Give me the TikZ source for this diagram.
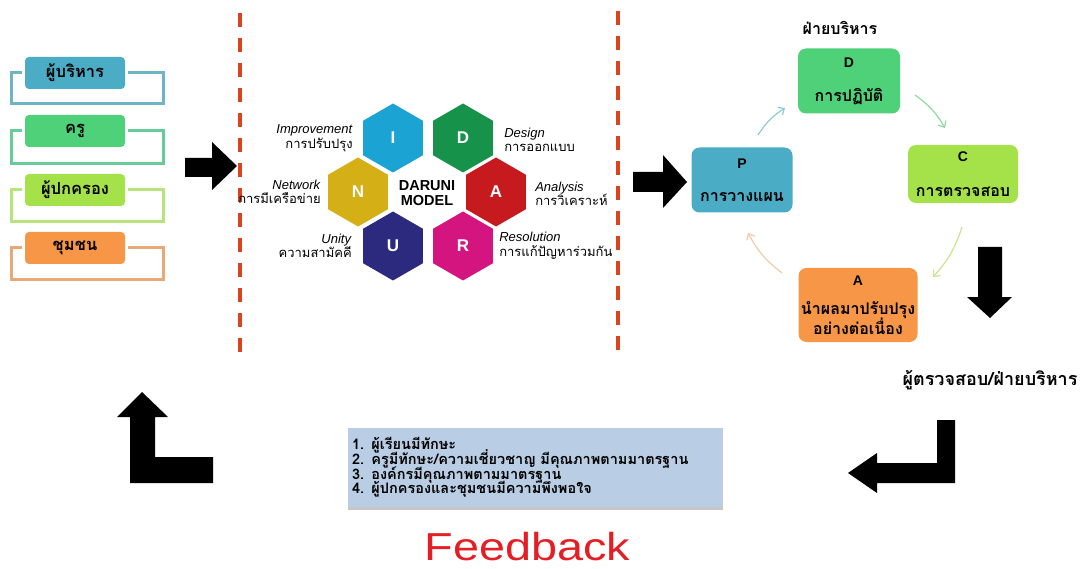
\documentclass[tikz,border=0pt]{standalone}
\usepackage{fontspec}
\setmainfont{Liberation Sans}
\newfontfamily\thaifont[Script=Thai]{Loma}
\newfontfamily\widefont[FakeStretch=1.2]{Liberation Sans}
\usetikzlibrary{positioning,shapes.geometric,shadows,arrows.meta}

\definecolor{teamblue}{HTML}{4BACC6}
\definecolor{teamgreen}{HTML}{4FD17A}
\definecolor{teamlime}{HTML}{A5E24A}
\definecolor{teamorange}{HTML}{F79646}
\definecolor{lineblue}{HTML}{6DB4C5}
\definecolor{linegreen}{HTML}{66CC99}
\definecolor{linelime}{HTML}{B8E47C}
\definecolor{lineorange}{HTML}{E8A976}
\definecolor{hexI}{HTML}{1BA3D3}
\definecolor{hexD}{HTML}{16924A}
\definecolor{hexN}{HTML}{D4AF15}
\definecolor{hexA}{HTML}{C71A1F}
\definecolor{hexU}{HTML}{2C2A7E}
\definecolor{hexR}{HTML}{D5157F}
\definecolor{sepred}{HTML}{D9431E}
\definecolor{fbred}{HTML}{E31E24}
\definecolor{resultbg}{HTML}{B9CDE4}
\definecolor{arrP}{HTML}{8FCBD3}
\definecolor{arrD}{HTML}{8EDAA5}
\definecolor{arrC}{HTML}{C3E890}
\definecolor{arrA}{HTML}{F4CBA5}

\tikzset{
    groupbox/.style={rounded corners=4pt, minimum width=100pt, minimum height=32pt,
        inner sep=0pt, font=\thaifont\bfseries\fontsize{16.5}{18}\selectfont},
    groupframe/.style={line width=3pt},
    hexa/.style={regular polygon, regular polygon sides=6, shape border rotate=30,
        minimum size=69pt, inner sep=0pt, text=white,
        font=\bfseries\fontsize{17}{17}\selectfont},
    hexlabel/.style={inner sep=0pt, font=\fontsize{13}{14.5}\selectfont\setlength{\lineskiplimit}{-20pt}},
    pdcabox/.style={rounded corners=8pt, inner sep=0pt, align=center,
        font=\bfseries\fontsize{14}{16}\selectfont\setlength{\lineskiplimit}{-20pt}},
    cyclearrow/.style={-{Straight Barb[length=5pt,width=9pt]}, line width=1.2pt},
    sepline/.style={draw=sepred, line width=3.5pt, dash pattern=on 14pt off 11pt},
    blockarrow/.style={fill=black}
}

\begin{document}
\begin{tikzpicture}[x=1pt, y=-1pt]
    \useasboundingbox (0,0) rectangle (1081,569);

    % กลุ่มผู้เกี่ยวข้อง
    \node[groupbox, fill=teamblue] (admin) at (75,73) {ผู้บริหาร};
    \node[groupbox, fill=teamgreen] (teacher) at (75,131) {ครู};
    \node[groupbox, fill=teamlime] (parent) at (75,190) {ผู้ปกครอง};
    \node[groupbox, fill=teamorange] (community) at (75,248) {ชุมชน};

    \draw[groupframe, lineblue] ([xshift=-3pt]admin.west) -- ++(-10,0) -- ++(0,31)
        -- ++(152,0) -- ++(0,-31) -- ([xshift=3pt]admin.east);
    \draw[groupframe, linegreen] ([xshift=-3pt]teacher.west) -- ++(-10,0) -- ++(0,33)
        -- ++(152,0) -- ++(0,-33) -- ([xshift=3pt]teacher.east);
    \draw[groupframe, linelime] ([xshift=-3pt]parent.west) -- ++(-10,0) -- ++(0,32)
        -- ++(152,0) -- ++(0,-32) -- ([xshift=3pt]parent.east);
    \draw[groupframe, lineorange] ([xshift=-3pt]community.west) -- ++(-10,0) -- ++(0,32)
        -- ++(152,0) -- ++(0,-32) -- ([xshift=3pt]community.east);

    % เส้นแบ่ง
    \draw[sepline] (240,13) -- (240,360);
    \draw[sepline] (618,11) -- (618,358);

    % DARUNI MODEL
    \node[hexa, fill=hexI] (I) at (393,138) {I};
    \node[hexa, fill=hexD] (D) at (463,138) {D};
    \node[hexa, fill=hexN] (N) at (358,192) {N};
    \node[hexa, fill=hexA] (A) at (496,192) {A};
    \node[hexa, fill=hexU] (U) at (393,246) {U};
    \node[hexa, fill=hexR] (R) at (463,246) {R};
    \node[font=\bfseries\fontsize{14.5}{14.5}\selectfont, align=center] (model) at (427,193) {DARUNI\\MODEL};

    \node[hexlabel, align=right, left=10pt of I] (impr) {\textit{Improvement}\\\thaifont การปรับปรุง};
    \node[hexlabel, align=left, right=11pt of D, yshift=-2pt] (design) {\textit{Design}\\\thaifont การออกแบบ};
    \node[hexlabel, align=right, left=7pt of N] (network) {\textit{Network}\\\thaifont การมีเครือข่าย};
    \node[hexlabel, align=left, right=9pt of A, yshift=-2pt] (analysis) {\textit{Analysis}\\\thaifont การวิเคราะห์};
    \node[hexlabel, align=right, left=11pt of U] (unity) {\textit{Unity}\\\thaifont ความสามัคคี};
    \node[hexlabel, align=left, right=6pt of R] (resol) {\textit{Resolution}\\\thaifont การแก้ปัญหาร่วมกัน};

    % ลูกศรทึบ
    \fill[blockarrow] (185,158) -- (212,158) -- (212,142) -- (237,166) -- (212,190)
        -- (212,177) -- (185,177) -- cycle;
    \fill[blockarrow] (633,172) -- (663,172) -- (663,155) -- (687,182) -- (663,208)
        -- (663,192) -- (633,192) -- cycle;
    \fill[blockarrow] (978,247) -- (1002,247) -- (1002,297) -- (1012,297) -- (990,318)
        -- (967,297) -- (978,297) -- cycle;
    \fill[blockarrow] (937,420) -- (955,420) -- (955,483) -- (877,483) -- (877,493)
        -- (848,473) -- (877,453) -- (877,463) -- (937,463) -- cycle;
    \fill[blockarrow] (142,392) -- (168,417) -- (155,417) -- (155,457) -- (213,457)
        -- (213,483) -- (130,483) -- (130,417) -- (117,417) -- cycle;

    % วงจร PDCA
    \node[pdcabox, fill=teamblue, minimum width=101pt, minimum height=65pt] (plan) at (742,180)
        {P\\[17pt]\thaifont\fontsize{16}{18}\selectfont การวางแผน};
    \node[pdcabox, fill=teamgreen, minimum width=102pt, minimum height=65pt] (do) at (849,81)
        {D\\[18pt]\thaifont\fontsize{16}{18}\selectfont การปฏิบัติ};
    \node[pdcabox, fill=teamlime, minimum width=110pt, minimum height=58pt] (check) at (963,174)
        {C\\[19pt]\thaifont\fontsize{16}{18}\selectfont การตรวจสอบ};
    \node[pdcabox, fill=teamorange, minimum width=119pt, minimum height=74pt] (act) at (858,305)
        {A\\[13pt]\thaifont\fontsize{16}{18}\selectfont นำผลมาปรับปรุง\\[4pt]\thaifont\fontsize{16}{18}\selectfont อย่างต่อเนื่อง};
    \node[font=\thaifont\bfseries\fontsize{16}{18}\selectfont] (mgmt) at (840,28) {ฝ่ายบริหาร};
    \node[font=\thaifont\bfseries\fontsize{18}{20}\selectfont] (auditor) at (990,380) {ผู้ตรวจสอบ/ฝ่ายบริหาร};

    \coordinate (pd1) at (758,135);
    \coordinate (pd2) at (785,108);
    \coordinate (dc1) at (915,95);
    \coordinate (dc2) at (945,128);
    \coordinate (ca1) at (962,227);
    \coordinate (ca2) at (933,277);
    \coordinate (ap1) at (782,273);
    \coordinate (ap2) at (748,233);
    \draw[cyclearrow, arrP] (pd1) to[bend left=12] (pd2);
    \draw[cyclearrow, arrD] (dc1) to[bend left=12] (dc2);
    \draw[cyclearrow, arrC] (ca1) to[bend left=12] (ca2);
    \draw[cyclearrow, arrA] (ap1) to[bend left=12] (ap2);

    % ผลลัพธ์
    \node[fill=resultbg, minimum width=375pt, minimum height=79pt, text width=367pt,
        inner sep=4pt, align=left, drop shadow={shadow xshift=0pt, shadow yshift=-3pt, opacity=.45},
        font=\thaifont\bfseries\fontsize{14.5}{14.8}\selectfont\setlength{\lineskiplimit}{-20pt}] (result) at (535.5,467.5)
        {1. ผู้เรียนมีทักษะ\\
         2. ครูมีทักษะ/ความเชี่ยวชาญ มีคุณภาพตามมาตรฐาน\\
         3. องค์กรมีคุณภาพตามมาตรฐาน\\
         4. ผู้ปกครองและชุมชนมีความพึงพอใจ};
    \node[anchor=base, text=fbred, font=\widefont\fontsize{39}{40}\selectfont] (fb) at (527.5,560) {Feedback};
\end{tikzpicture}
\end{document}
